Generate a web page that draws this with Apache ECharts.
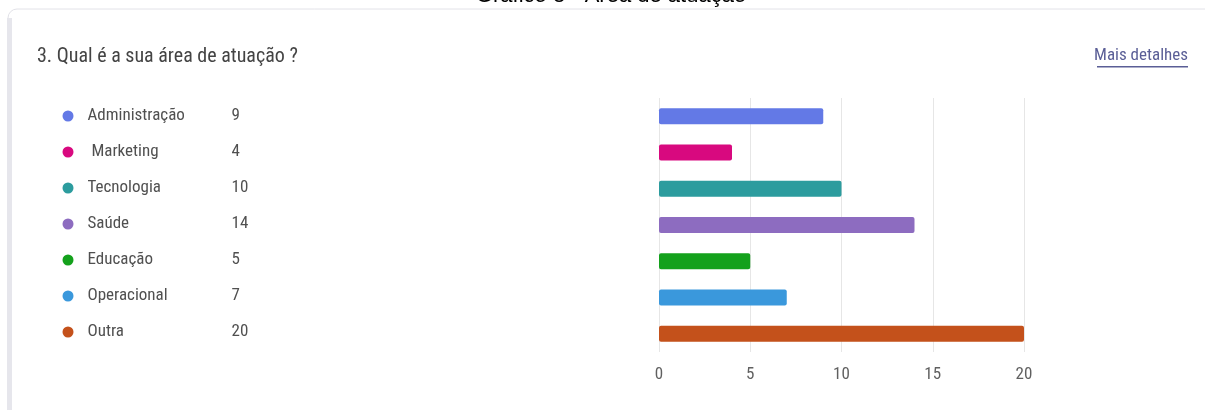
<!DOCTYPE html>
<html>
<head>
<meta charset="utf-8">
<script src="https://cdn.jsdelivr.net/npm/echarts@6/dist/echarts.min.js"></script>
<style>
html,body{margin:0;padding:0;background:#fff;}
#c{width:1205px;height:410px;}
</style>
</head>
<body>
<div id="c"></div>
<script>
const categories = ['Administração', ' Marketing', 'Tecnologia', 'Saúde', 'Educação', 'Operacional', 'Outra'];
const values = [9, 4, 10, 14, 5, 7, 20];
const colors = ['#6379e6', '#d8097f', '#2c9c9e', '#8d6cc0', '#14a11c', '#3a98dc', '#c4511b'];
const xTicks = [0, 5, 10, 15, 20];
const pageTitle = 'Gráfico 8 - Área de atuação';
const question = '3. Qual é a sua área de atuação ?';
const linkText = 'Mais detalhes';

const font = '"Roboto Condensed", "DejaVu Sans Condensed", sans-serif';
const chart = echarts.init(document.getElementById('c'), null, {renderer: 'canvas'});

chart.setOption({
  animation: false,
  backgroundColor: '#fff',
  graphic: [
    {type: 'rect', shape: {x: 8, y: 9, width: 1240, height: 440, r: 9}, style: {fill: '#fff', stroke: '#e2e2e8', lineWidth: 1}, z: -10},
    {type: 'rect', shape: {x: 7, y: 18, width: 5, height: 400}, style: {fill: '#e6e6ec'}, z: -9},
    {type: 'text', x: 611, y: -4, style: {text: pageTitle, font: '22px "Liberation Sans", Arial, sans-serif', fill: '#000', align: 'center', verticalAlign: 'middle'}},
    {type: 'text', x: 37, y: 57, style: {text: question, font: '20px ' + font, fill: '#444', align: 'left', verticalAlign: 'middle'}},
    {type: 'text', x: 1188, y: 56, style: {text: linkText, font: '17px ' + font, fill: '#5a5e96', align: 'right', verticalAlign: 'middle'}},
    {type: 'rect', shape: {x: 1097, y: 66, width: 91, height: 1.5}, style: {fill: '#5a5e96'}}
  ],
  grid: [
    {left: 659, width: 365, top: 98, height: 254, containLabel: false},
    {left: 68, width: 170, top: 98, height: 252, containLabel: false}
  ],
  xAxis: [
    {
      gridIndex: 0, type: 'value', min: 0, max: 20, interval: 5,
      axisLine: {show: false}, axisTick: {show: false},
      splitLine: {show: true, lineStyle: {color: '#e6e6e6', width: 1}},
      axisLabel: {color: '#606060', fontSize: 17, fontFamily: font, margin: 14,
        formatter: v => xTicks.indexOf(v) >= 0 ? String(v) : ''}
    },
    {gridIndex: 1, type: 'value', min: 0, max: 1, show: false}
  ],
  yAxis: [
    {gridIndex: 0, type: 'category', data: categories, inverse: true, show: false},
    {gridIndex: 1, type: 'category', data: categories, inverse: true, show: false}
  ],
  series: [
    {
      type: 'bar', xAxisIndex: 0, yAxisIndex: 0,
      barWidth: 16,
      data: values.map((v, i) => ({value: v, itemStyle: {color: colors[i], borderRadius: 2}}))
    },
    {
      type: 'scatter', xAxisIndex: 1, yAxisIndex: 1,
      symbol: 'circle', symbolSize: 11,
      itemStyle: {opacity: 1},
      data: categories.map((c, i) => ({value: [0, i], itemStyle: {color: colors[i], opacity: 1}})),
      label: {
        show: true, position: 'right', distance: 14,
        formatter: p => '{n|' + categories[p.data.value[1]] + '}{v|' + values[p.data.value[1]] + '}',
        rich: {
          n: {width: 144, color: '#505050', fontSize: 17, fontFamily: font},
          v: {color: '#505050', fontSize: 17, fontFamily: font}
        }
      }
    }
  ]
});
</script>
</body>
</html>
